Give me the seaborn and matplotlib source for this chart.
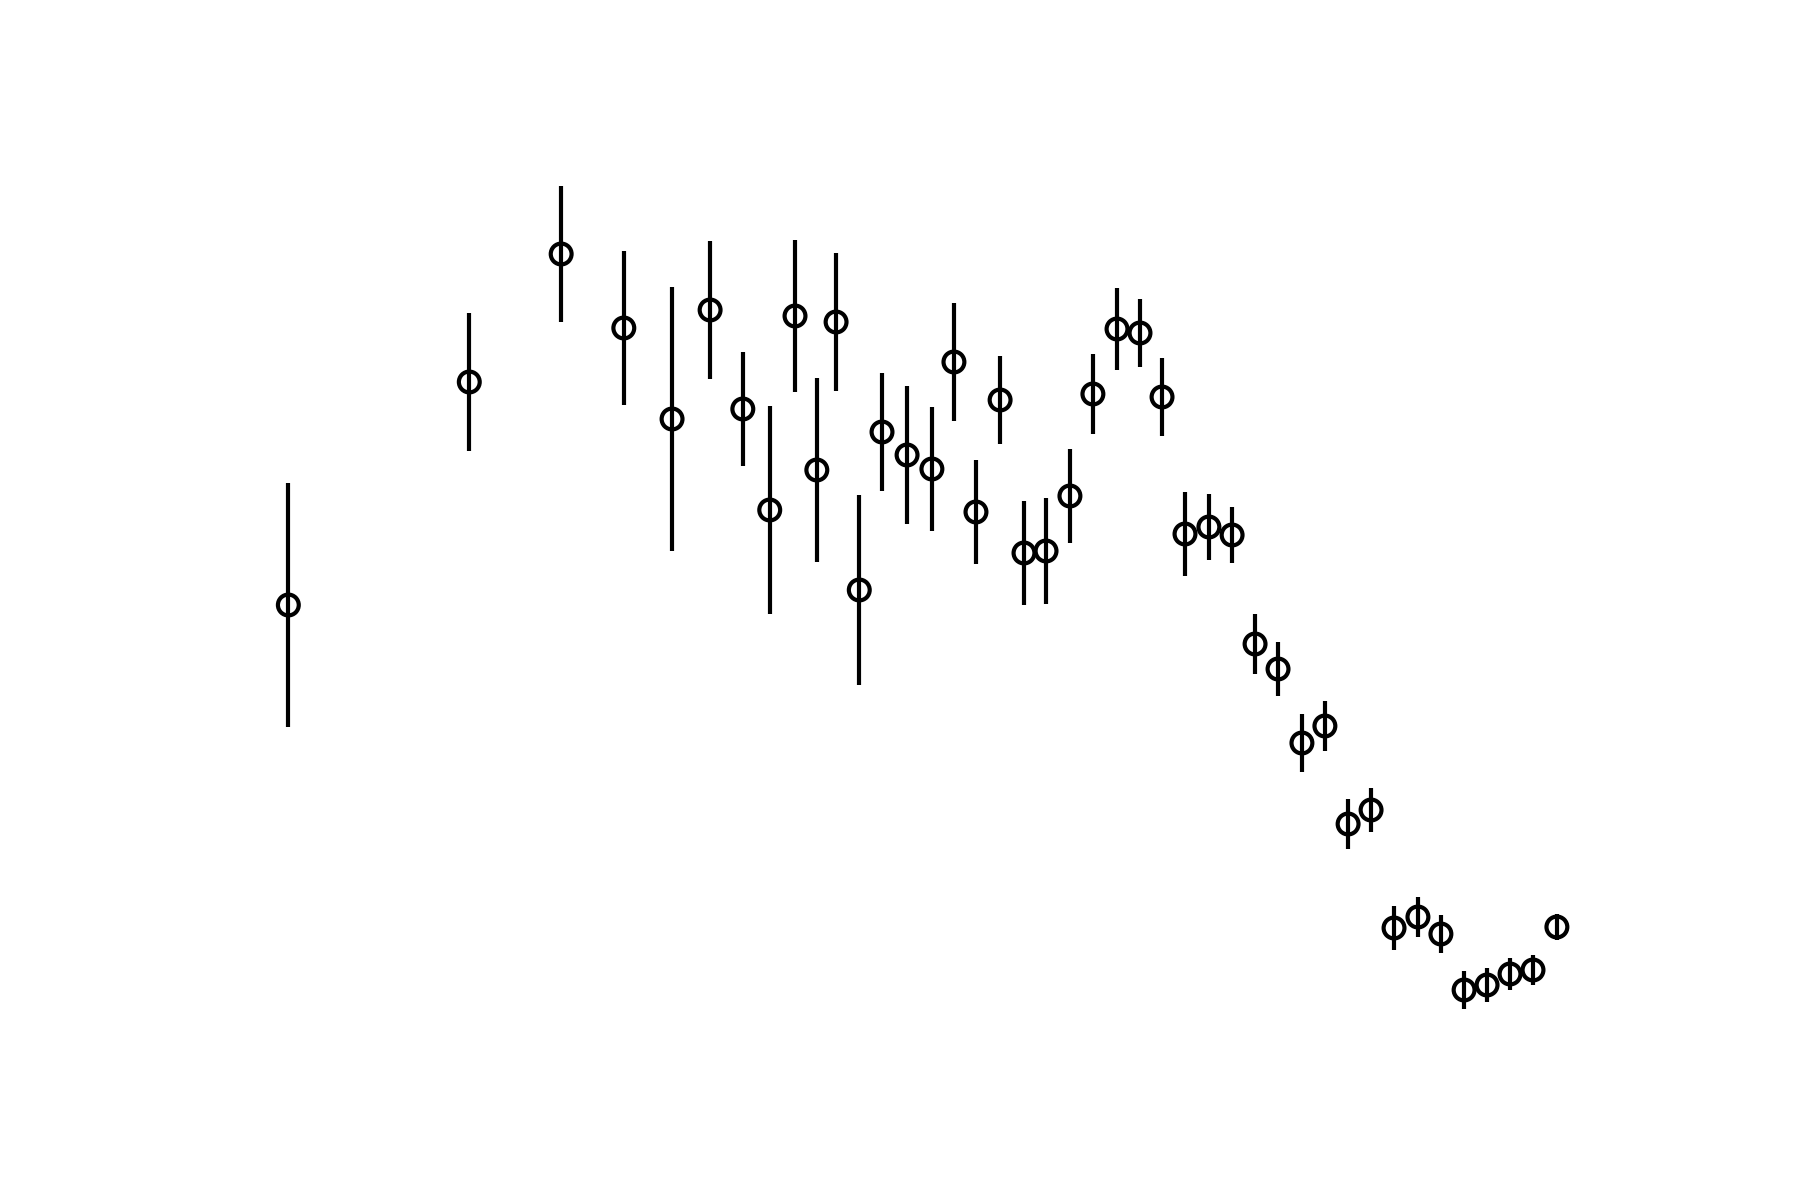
import matplotlib
matplotlib.use("Agg")
import matplotlib.pyplot as plt
import numpy as np
import pandas as pd
import seaborn as sns

# values
x = [2.73, 10.53, 14.49, 17.19, 19.27, 20.91, 22.32, 23.48, 24.57, 25.51,
     26.34, 27.34, 28.32, 29.40, 30.47, 31.42, 32.37, 33.41, 34.44, 35.39,
     36.42, 37.41, 38.45, 39.44, 40.39, 41.38, 42.41, 43.41, 44.40, 45.39,
     46.42, 47.41, 48.41, 49.40, 50.39, 51.42, 52.41, 53.41, 54.40, 55.39,
     56.38, 57.41]
y = [4.63, 6.86, 8.14, 7.40, 6.49, 7.58, 6.59, 5.58, 7.52, 5.98,
     7.46, 4.78, 6.36, 6.13, 5.99, 7.06, 5.56, 6.68, 5.15, 5.17,
     5.72, 6.74, 7.39, 7.35, 6.71, 5.34, 5.41, 5.33, 4.24, 3.99,
     3.25, 3.42, 2.44, 2.58, 1.40, 1.51, 1.34, 0.78, 0.83, 0.94,
     0.98, 1.41]
yerr = [1.22, 0.69, 0.68, 0.77, 1.32, 0.69, 0.57, 1.04, 0.76, 0.92,
        0.69, 0.95, 0.59, 0.69, 0.62, 0.59, 0.52, 0.44, 0.52, 0.53,
        0.47, 0.40, 0.41, 0.34, 0.39, 0.42, 0.33, 0.28, 0.30, 0.27,
        0.29, 0.25, 0.25, 0.22, 0.22, 0.20, 0.19, 0.19, 0.17, 0.16,
        0.15, 0.13]

df = pd.DataFrame({"x": x, "y": y, "err": yerr})

sns.set_style("white")
fig, ax = plt.subplots(figsize=(6, 4), dpi=300)

ax.errorbar(df["x"], df["y"], yerr=df["err"], fmt="none", ecolor="black",
            elinewidth=1.0, capsize=0)
sns.scatterplot(data=df, x="x", y="y", ax=ax, marker="o", s=25,
                facecolor="none", edgecolor="black", linewidth=1.0, zorder=3)

ax.set_xlim(0, 60.13)
ax.set_ylim(0, 9.24)
ax.axis("off")

fig.savefig("out.png", dpi=300)
